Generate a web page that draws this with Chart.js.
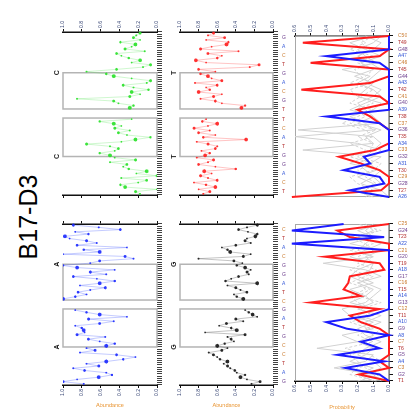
<!DOCTYPE html>
<html>
<head>
<meta charset="utf-8">
<title>B17-D3</title>
<script src="https://cdn.jsdelivr.net/npm/chart.js@4.4.1/dist/chart.umd.min.js"></script>
<style>
  html, body { margin: 0; padding: 0; background: #fff; overflow: hidden; width: 414px; height: 417px; }
  /* the sheet is laid out upright and then turned a quarter turn counter-clockwise */
  #sheet { position: absolute; left: 0; top: 0; width: 417px; height: 414px; background: #fff;
           transform-origin: 0 0; transform: translate(0, 417px) rotate(-90deg); }
  #title { position: absolute; left: 0; top: 16px; width: 400px; text-align: center;
           font: 25px/25px "Liberation Sans", Arial, sans-serif; color: #000; }
  canvas { position: absolute; }
</style>
</head>
<body>
<div id="sheet">
  <div id="title">B17-D3</div>
  <canvas id="panelA" width="194" height="118" style="left:4px;top:50px"></canvas>
  <canvas id="panelC" width="198" height="118" style="left:216px;top:50px"></canvas>
  <canvas id="panelG" width="194" height="128" style="left:4px;top:167px"></canvas>
  <canvas id="panelT" width="198" height="128" style="left:216px;top:167px"></canvas>
  <canvas id="probLeft" width="194" height="126" style="left:4px;top:288px"></canvas>
  <canvas id="probRight" width="198" height="126" style="left:216px;top:288px"></canvas>
</div>
<script>
// ---------- data ----------
// motif windows (position index ranges) shared by the four abundance panels
const motifRanges = [[17, 33], [38, 53]];

const abundanceA = [0.78,1.0,0.85,0.62,0.48,0.54,0.77,0.89,0.62,0.75,0.54,0.36,0.23,0.43,0.82,0.66,0.75,0.54,0.45,0.61,0.73,0.55,0.85,0.77,0.78,0.8,0.87,0.61,0.46,0.73,0.32,0.61,0.75,0.87,
  null,null,null,null,
  1.0,0.87,0.75,0.84,0.71,0.55,0.82,0.61,0.45,0.64,0.89,0.54,0.71,0.45,0.85,1.0,0.71,0.61,0.25,0.34,1.0,0.61,0.78,0.32,0.85,0.64,0.75,0.93,0.98,0.73,0.87,0.39,0.62,0.89];

const abundanceC = [0.18,0.23,0.0,0.34,0.39,0.2,0.11,0.38,0.0,0.22,0.11,0.3,0.36,0.32,0.5,0.23,0.45,0.5,0.61,0.45,0.41,0.5,0.75,0.38,0.23,0.07,0.32,0.41,0.29,0.45,0.38,0.46,0.61,0.27,
  null,null,null,null,
  0.29,0.25,0.41,0.46,0.85,0.29,0.18,0.27,0.09,0.25,0.36,0.11,0.07,0.27,0.46,0.54,0.75,0.43,0.15,0.07,0.27,0.18,0.3,0.38,0.43,0.13,0.34,0.27,0.23,0.39,0.18,0.25,0.22,0.18];

const abundanceG = [0.23,0.14,0.28,0.35,0.3,0.39,0.41,0.46,0.49,0.53,0.49,0.57,0.6,0.64,0.69,0.55,0.49,0.6,0.52,0.42,0.45,0.49,0.3,0.73,0.39,0.45,0.58,0.5,0.32,0.4,0.17,0.22,0.26,0.3,
  null,null,null,null,
  0.32,0.39,0.42,0.28,0.35,0.4,0.49,0.17,0.51,0.45,0.37,0.26,0.28,0.24,0.3,0.39,0.33,0.42,0.8,0.32,0.24,0.46,0.49,0.55,0.4,0.24,0.3,0.28,0.19,0.17,0.27,0.37,0.28,0.17];

const abundanceT = [0.75,0.68,0.8,0.62,0.72,0.85,0.6,0.7,0.78,0.66,0.74,0.4,0.62,0.8,0.7,0.64,0.82,0.73,0.68,0.77,0.62,0.6,0.7,0.82,0.29,0.75,0.62,0.8,0.68,0.85,0.7,0.6,0.76,0.72,
  null,null,null,null,
  0.34,0.3,0.55,0.62,0.78,0.64,0.55,0.8,0.68,0.72,0.6,0.84,0.55,0.66,0.7,0.78,0.62,0.8,0.25,0.15,0.72,0.83,0.6,0.55,0.7,0.37,0.78,0.66,0.5,0.48,0.72,0.52,0.7,0.64];

// bases written under the middle row (one every fourth position)
const basesG = ['G','A','T','C','C','G','T','A','G','C','T','A','G','G','C','A','T','C'];
const basesT = ['T','C','A','G','G','T','A','C','T','T','G','C','A','G','T','C','A','G'];

// bottom row: sites and per-site probabilities
const sitesLeft  = ['T1','G2','C3','A4','G5','T6','C7','A8','G9','A10','T11','C12','G13','A14','T15','C16','G17','A18','T19','G20','C21','A22','T23','G24','C25'];
const sitesRight = ['A26','T27','G28','C29','T30','A31','G32','C33','A34','T35','G36','C37','T38','A39','G40','C41','T42','A43','G44','T45','C46','A47','G48','T49','C50'];

const blueLeft = [0,0.06,0.28,0.03,0.33,0.06,0.18,0,0.27,0.4,0.12,0,0,0,0,0,0,0,0,0,0,0.62,0.03,0.62,0.29];
const redLeft  = [0,0.19,0,0.06,0,0,0,0,0.06,0.18,0.25,0.06,0.5,0.18,0.29,0.26,0.25,0.03,0.06,0.41,0,0,0.25,0.33,0];
const greyLeft = [
  [0.05,0.1,0.35,0.15,0.1,0.46,0.2,0.1,0.15,0.05,0.2,0.1,0.25,0.15,0.1,0.2,0.05,0.15,0.42,0.1,0.2,0.15,0.1,0.2,0.05],
  [0.1,0.2,0.1,0.25,0.15,0.1,0.2,0.3,0.1,0.15,0.05,0.2,0.1,0.15,0.25,0.1,0.2,0.12,0.1,0.25,0.15,0.05,0.2,0.1,0.15],
  [0,0.15,0.05,0.1,0.2,0.15,0.05,0.15,0.2,0.1,0.25,0.3,0.15,0.1,0.05,0.15,0.25,0.2,0.1,0.15,0.05,0.25,0.1,0.15,0.1],
  [0.08,0.25,0.2,0.05,0.12,0.28,0.1,0.2,0.12,0.25,0.1,0.18,0.05,0.2,0.12,0.25,0.15,0.08,0.2,0.1,0.25,0.1,0.15,0.08,0.12],
  [0.2,0.05,0.15,0.2,0.25,0.1,0.15,0.1,0.05,0.2,0.15,0.1,0.2,0.25,0.15,0.2,0.1,0.25,0.15,0.2,0.1,0.15,0.25,0.05,0.2]
];

const blueRight = [0,0.25,0.03,0.06,0.29,0.12,0.16,0,0,0,0,0.06,0.4,0,0,0,0,0,0,0,0.06,0.4,0,0,0];
const redRight  = [0.62,0.05,0,0,0.06,0.18,0.32,0.09,0,0,0,0.06,0.12,0.2,0,0.06,0.56,0.12,0,0,0.5,0.06,0,0.55,0];
const greyRight = [
  [0.05,0.15,0.1,0.2,0.08,0.12,0.05,0.55,0.1,0.15,0.05,0.2,0.1,0.25,0.15,0.05,0.1,0.2,0.12,0.3,0.08,0.15,0.2,0.1,0.05],
  [0.1,0.22,0.05,0.1,0.15,0.2,0.1,0.05,0.2,0.6,0.1,0.15,0.25,0.1,0.05,0.2,0.15,0.1,0.22,0.1,0.18,0.05,0.15,0.25,0.1],
  [0,0.05,0.18,0.1,0.05,0.25,0.15,0.1,0.05,0.1,0.58,0.05,0.1,0.15,0.2,0.1,0.05,0.15,0.1,0.05,0.12,0.2,0.1,0.05,0.15],
  [0.12,0.2,0.08,0.15,0.2,0.1,0.25,0.12,0.1,0.2,0.08,0.25,0.15,0.22,0.1,0.2,0.25,0.12,0.18,0.22,0.1,0.2,0.12,0.18,0.1],
  [0.15,0.1,0.2,0.25,0.1,0.05,0.2,0.15,0.25,0.1,0.15,0.3,0.2,0.1,0.25,0.18,0.1,0.25,0.15,0.1,0.2,0.1,0.25,0.15,0.2]
];

// ---------- styling ----------
const FONT = '"Liberation Sans", Arial, sans-serif';
const TICK_COLOR = '#3c4a78';
const TITLE_COLOR = '#e8922e';
const BASE_COLORS = { A: '#2b4fd6', C: '#c9792c', G: '#6b3b8c', T: '#b32d2d' };
const dotSizes = [1.0, 1.5, 0.9, 1.9, 1.2, 0.9, 1.4];

// grey motif windows plus their letter above the outer edges
const motifBoxes = {
  id: 'motifBoxes',
  beforeDatasetsDraw(chart, args, opts) {
    if (!opts || !opts.ranges) return;
    const { ctx, chartArea: a } = chart;
    const x = chart.scales.x;
    const half = (x.getPixelForValue(1) - x.getPixelForValue(0)) / 2;
    ctx.save();
    ctx.strokeStyle = '#b4b4b4';
    ctx.lineWidth = 1.5;
    opts.ranges.forEach(([s, e]) => {
      const l = x.getPixelForValue(s) - half, r = x.getPixelForValue(e) + half;
      ctx.strokeRect(l, a.top, r - l, a.bottom - a.top);
    });
    ctx.fillStyle = '#222';
    ctx.font = 'bold 7px ' + FONT;
    ctx.textAlign = 'center';
    ctx.textBaseline = 'alphabetic';
    const first = opts.ranges[0], last = opts.ranges[opts.ranges.length - 1];
    ctx.fillText(opts.letter, x.getPixelForValue(first[0]) - half, a.top - 4);
    ctx.fillText(opts.letter, x.getPixelForValue(last[1]) + half, a.top - 4);
    ctx.restore();
  }
};

// light frame round the probability plots
const frameBox = {
  id: 'frameBox',
  beforeDatasetsDraw(chart, args, opts) {
    if (!opts || !opts.show) return;
    const { ctx, chartArea: a } = chart;
    ctx.save();
    ctx.strokeStyle = '#a8a8a8';
    ctx.lineWidth = 1;
    ctx.strokeRect(a.left + 0.5, a.top + 0.5, a.width - 1, a.height - 1);
    ctx.restore();
  }
};

// turned category labels and the value-axis title
const axisText = {
  id: 'axisText',
  afterDraw(chart, args, opts) {
    if (!opts) return;
    const { ctx, chartArea: a } = chart;
    const x = chart.scales.x;
    ctx.save();
    if (opts.labels) {
      ctx.font = '5px ' + FONT;
      ctx.textAlign = 'left';
      ctx.textBaseline = 'middle';
      opts.labels.forEach((lab, i) => {
        if (!lab) return;
        ctx.save();
        ctx.translate(x.getPixelForValue(i), a.bottom + opts.labelGap);
        ctx.rotate(Math.PI / 2);
        ctx.fillStyle = BASE_COLORS[lab[0]] || '#888';
        ctx.fillText(lab, 0, 0);
        ctx.restore();
      });
    }
    if (opts.title) {
      ctx.font = '5.5px ' + FONT;
      ctx.fillStyle = TITLE_COLOR;
      ctx.textAlign = 'center';
      ctx.textBaseline = 'middle';
      ctx.translate(opts.titleX, (a.top + a.bottom) / 2);
      ctx.rotate(Math.PI / 2);
      ctx.fillText(opts.title, 0, 0);
    }
    ctx.restore();
  }
};

Chart.register(motifBoxes, frameBox, axisText);

function valueAxis({ side, labelled, width, max, step }) {
  return {
    type: 'linear', position: side, min: 0, max,
    ticks: { display: labelled, stepSize: step, color: TICK_COLOR, padding: 1,
             font: { family: FONT, size: 5 }, callback: v => v.toFixed(1) },
    grid: { drawOnChartArea: false, drawTicks: true, tickLength: 3, color: '#111', lineWidth: 1 },
    border: { display: true, color: '#111', width: 1.5 },
    afterFit(scale) { scale.width = width; scale.paddingTop = 0; scale.paddingBottom = 0; }
  };
}

function abundancePanel(id, { values, dot, line, side, bases, letter, title }) {
  const labels = values.map((_, i) => (bases && i % 4 === 1) ? (bases[(i - 1) / 4] || '') : '');
  const left = side === 'left';
  new Chart(document.getElementById(id), {
    type: 'line',
    data: {
      labels,
      datasets: [{
        data: values, borderColor: line, borderWidth: 0.8, tension: 0, spanGaps: false,
        pointBackgroundColor: dot, pointBorderWidth: 0,
        pointRadius: ctx => dotSizes[ctx.dataIndex % dotSizes.length]
      }]
    },
    options: {
      responsive: false, animation: false, events: [],
      layout: { padding: { top: 13, bottom: bases ? 0 : 3, left: 0, right: 0 } },
      plugins: {
        legend: { display: false }, tooltip: { enabled: false },
        motifBoxes: { ranges: motifRanges, letter },
        axisText: { labels: bases ? labels : null, labelGap: 9, title, titleX: 8 }
      },
      scales: {
        x: {
          type: 'category', offset: true,
          grid: { offset: true, drawOnChartArea: false, drawTicks: true, tickLength: 5, color: '#111', lineWidth: 0.8 },
          border: { display: false },
          ticks: { display: false },
          afterFit(s) { s.height = bases ? 22 : 8; s.paddingLeft = 0; s.paddingRight = 0; }
        },
        y: valueAxis({ side, labelled: true, width: left ? 28 : 29, max: 1, step: 0.2 }),
        y2: valueAxis({ side: left ? 'right' : 'left', labelled: false, width: left ? 5 : 6, max: 1, step: 0.2 })
      }
    }
  });
}

function probabilityPanel(id, { sites, blue, red, greys, side, title, yWidth, pad }) {
  const datasets = [
    { data: blue, borderColor: '#1c1cff', borderWidth: 2 },
    { data: red, borderColor: '#ff1e1e', borderWidth: 2 },
    ...greys.map((g, k) => ({ data: g, borderColor: '#d2d2d2', borderWidth: 1, borderDash: k >= greys.length - 2 ? [3, 2] : [] }))
  ];
  datasets.forEach(d => { d.pointRadius = 0; d.tension = 0; d.clip = false; });
  new Chart(document.getElementById(id), {
    type: 'line',
    data: { labels: sites, datasets },
    options: {
      responsive: false, animation: false, events: [],
      layout: { padding: { top: 7, bottom: 0, left: pad.left, right: pad.right } },
      plugins: {
        legend: { display: false }, tooltip: { enabled: false },
        frameBox: { show: true },
        axisText: { labels: sites, labelGap: 9, title, titleX: 6 }
      },
      scales: {
        x: {
          type: 'category', offset: false,
          grid: { drawOnChartArea: false, drawTicks: true, tickLength: 4, color: '#111', lineWidth: 1 },
          border: { display: true, color: '#111', width: 1.5 },
          ticks: { display: false },
          afterFit(s) { s.height = 25; s.paddingLeft = 0; s.paddingRight = 0; }
        },
        y: valueAxis({ side, labelled: true, width: yWidth, max: 0.6, step: 0.1 })
      }
    }
  });
}

abundancePanel('panelA', { values: abundanceA, dot: 'rgba(25,40,255,0.9)', line: 'rgba(70,90,255,0.4)', side: 'left', letter: 'A', title: 'Abundance' });
abundancePanel('panelC', { values: abundanceC, dot: 'rgba(40,225,40,0.9)', line: 'rgba(80,225,80,0.35)', side: 'right', letter: 'C' });
abundancePanel('panelG', { values: abundanceG, dot: 'rgba(20,20,20,0.9)', line: 'rgba(70,70,70,0.4)', side: 'left', bases: basesG, letter: 'G', title: 'Abundance' });
abundancePanel('panelT', { values: abundanceT, dot: 'rgba(255,30,30,0.9)', line: 'rgba(255,70,70,0.4)', side: 'right', bases: basesT, letter: 'T' });

probabilityPanel('probLeft', { sites: sitesLeft, blue: blueLeft, red: redLeft, greys: greyLeft, side: 'left', title: 'Probability', yWidth: 32, pad: { left: 0, right: 5 } });
probabilityPanel('probRight', { sites: sitesRight, blue: blueRight, red: redRight, greys: greyRight, side: 'right', yWidth: 33, pad: { left: 4, right: 0 } });
</script>
</body>
</html>
